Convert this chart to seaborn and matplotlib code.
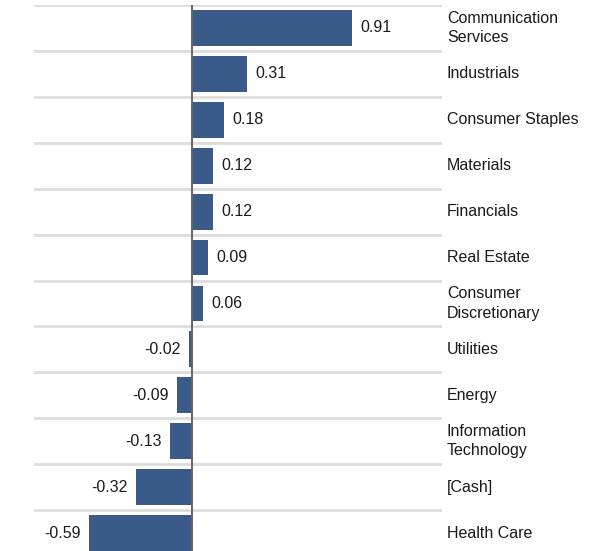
import numpy as np
import pandas as pd
import matplotlib
matplotlib.use('Agg')
import matplotlib.pyplot as plt
import seaborn as sns

sectors = ['Communication\nServices', 'Industrials', 'Consumer Staples', 'Materials',
           'Financials', 'Real Estate', 'Consumer\nDiscretionary', 'Utilities',
           'Energy', 'Information\nTechnology', '[Cash]', 'Health Care']
values = [0.91, 0.31, 0.18, 0.12, 0.12, 0.09, 0.06, -0.02, -0.09, -0.13, -0.32, -0.59]

df = pd.DataFrame({'sector': sectors, 'value': values})

sns.set_style('white')
plt.rcParams['font.family'] = ['Liberation Sans', 'DejaVu Sans']

fig = plt.figure(figsize=(6, 5.51), dpi=100)
ax = fig.add_axes([34 / 600, 0, (442 - 34) / 600, (551 - 5) / 551])

sns.barplot(data=df, x='value', y='sector', orient='h', color='#3a5a8a',
            saturation=1, width=0.78, linewidth=0, ax=ax)

ax.set_xlim(-0.905, 1.427)
ax.set_ylim(11.39, -0.5)

# row separators
ax.set_yticks(np.arange(-0.5, len(sectors) - 0.5, 1), minor=True)
ax.grid(True, which='minor', axis='y', color='#dddddd', linewidth=2)
ax.grid(False, which='major')
ax.axvline(0, color='#666666', linewidth=1.4, zorder=3)

ax.yaxis.tick_right()
ax.tick_params(axis='y', which='both', length=0, pad=3.5, labelsize=11.5, colors='#1a1a1a')
ax.set_yticks(range(len(sectors)))
ax.set_yticklabels(sectors, ha='left', va='center', linespacing=1.35)
ax.set_xticks([])
ax.set_xlabel('')
ax.set_ylabel('')
for s in ax.spines.values():
    s.set_visible(False)

ax.bar_label(ax.containers[0], labels=[f'{v:.2f}' for v in values],
             padding=6, fontsize=11.5, color='#1a1a1a')

fig.savefig('out.png', dpi=100)
